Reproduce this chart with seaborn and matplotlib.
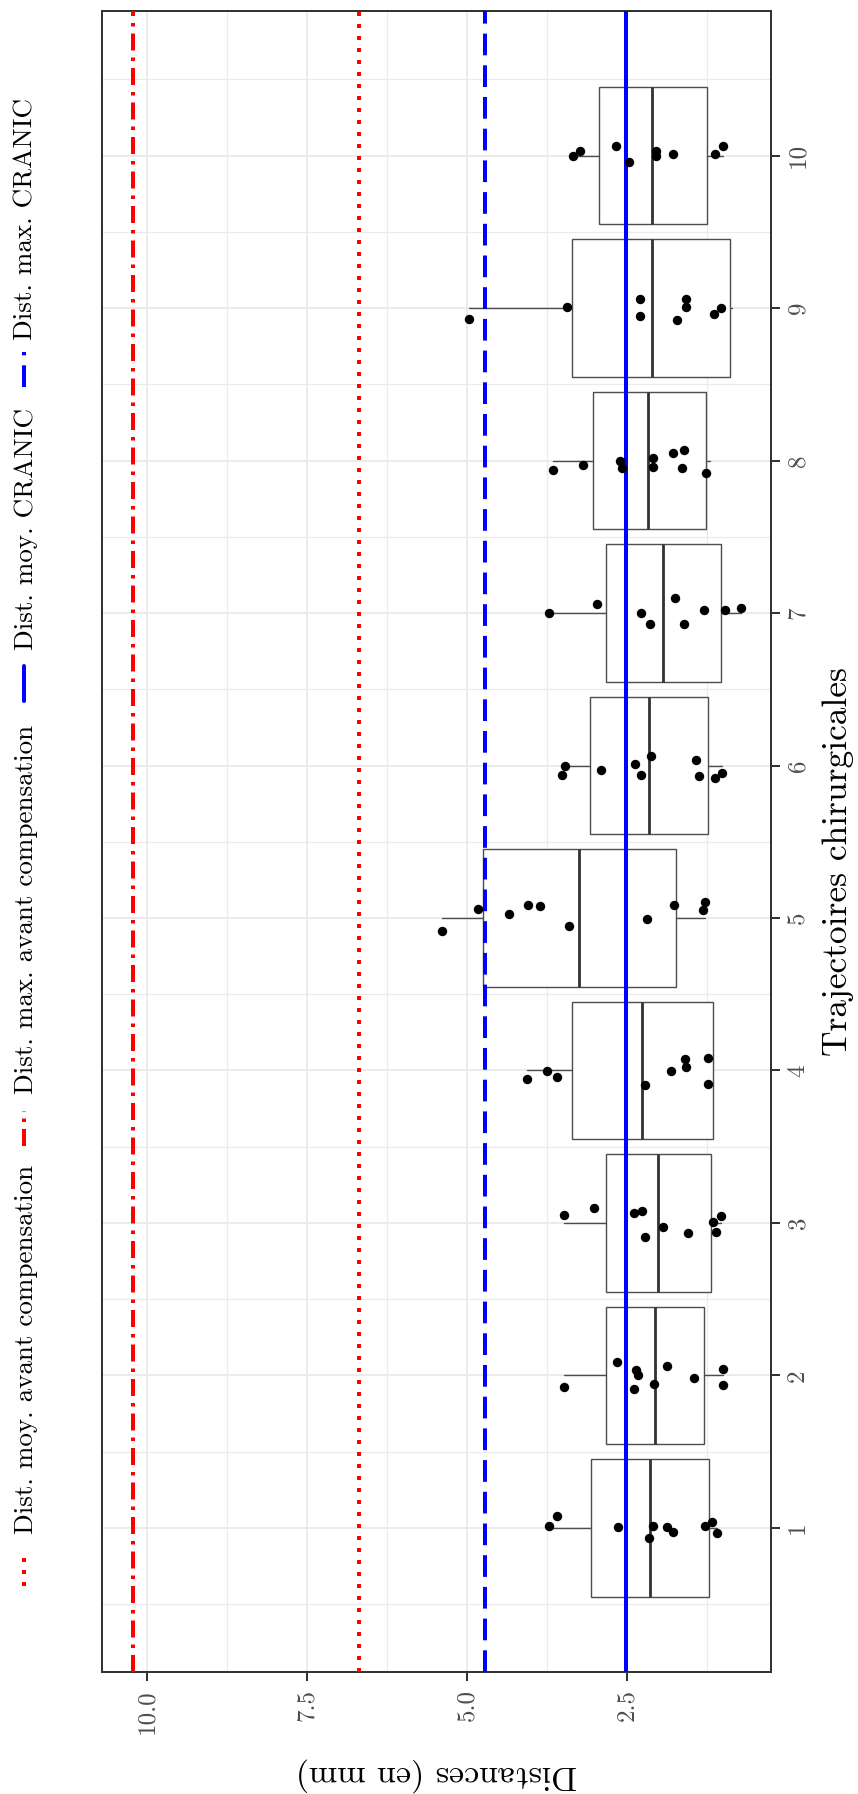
import matplotlib
matplotlib.use("Agg")
import matplotlib.pyplot as plt
from matplotlib.lines import Line2D
import seaborn as sns
import numpy as np
import pandas as pd

# ---------------- data ----------------
trajectories = [1, 2, 3, 4, 5, 6, 7, 8, 9, 10]
tick_labels_traj = ["1", "2", "3", "4", "5", "6", "7", "8", "9", "10"]
dist_ticks = [10.0, 7.5, 5.0, 2.5]
dist_tick_labels = ["10.0", "7.5", "5.0", "2.5"]

box_q1 = [1.208, 1.287, 1.188, 1.156, 1.729, 1.224, 1.03, 1.26, 0.89, 1.25]
box_med = [2.135, 2.058, 2.005, 2.255, 3.240, 2.146, 1.93, 2.16, 2.10, 2.10]
box_q3 = [3.063, 2.823, 2.828, 3.359, 4.740, 3.073, 2.82, 3.03, 3.35, 2.93]
box_lo = [1.094, 0.995, 1.026, 1.156, 1.271, 1.005, 0.71, 1.20, 0.85, 1.00]
box_hi = [3.709, 3.474, 3.474, 4.063, 5.391, 3.505, 3.71, 3.66, 4.96, 3.34]

pt_traj = ([1] * 10 + [2] * 10 + [3] * 10 + [4] * 9 + [5] * 10 + [6] * 10
           + [7] * 9 + [8] * 10 + [9] * 9 + [10] * 9)
pt_value = [
    3.709, 3.583, 2.641, 2.094, 2.151, 1.870, 1.771, 1.276, 1.161, 1.094,
    3.474, 2.657, 2.360, 2.318, 2.380, 2.078, 1.870, 1.443, 0.995, 0.995,
    3.474, 3.005, 2.391, 2.256, 2.214, 1.927, 1.547, 1.157, 1.026, 1.099,
    4.063, 3.740, 3.583, 2.214, 1.807, 1.589, 1.573, 1.224, 1.224,
    5.391, 4.818, 4.333, 4.037, 3.860, 3.396, 2.188, 1.766, 1.271, 1.307,
    3.464, 3.505, 2.896, 2.370, 2.276, 2.115, 1.422, 1.370, 1.115, 1.005,
    3.71, 2.96, 2.28, 2.14, 1.75, 1.60, 1.30, 0.96, 0.71,
    3.66, 3.18, 2.60, 2.58, 2.09, 2.09, 1.78, 1.60, 1.64, 1.26,
    4.96, 3.43, 2.30, 2.30, 1.71, 1.57, 1.57, 1.13, 1.03,
    3.34, 3.23, 2.67, 2.46, 2.05, 2.05, 1.78, 1.12, 1.00,
]
pt_jitter = [
    0.015, 0.081, 0.004, 0.015, -0.068, 0.007, -0.026, 0.015, 0.042, -0.033,
    -0.074, 0.085, 0.035, 0.000, -0.087, -0.055, 0.063, -0.020, 0.039, -0.063,
    0.055, 0.098, 0.066, 0.081, -0.094, -0.026, -0.066, 0.004, 0.046, -0.061,
    -0.057, -0.002, -0.046, -0.094, -0.004, 0.074, 0.022, 0.083, -0.090,
    -0.087, 0.061, 0.028, 0.087, 0.077, -0.050, -0.007, 0.085, 0.103, 0.050,
    -0.004, -0.059, -0.031, 0.007, -0.061, 0.063, 0.037, -0.068, -0.079, -0.050,
    0.00, 0.06, 0.00, -0.07, 0.10, -0.07, 0.02, 0.02, 0.03,
    -0.06, -0.03, 0.00, -0.05, 0.02, -0.04, 0.05, 0.07, -0.05, -0.08,
    -0.07, 0.01, 0.06, -0.05, -0.08, 0.06, 0.01, -0.04, 0.00,
    0.00, 0.03, 0.06, -0.04, 0.03, 0.00, 0.01, 0.01, 0.06,
]

ref_labels = ["Dist. moy. avant compensation", "Dist. max. avant compensation",
              "Dist. moy. CRANIC", "Dist. max. CRANIC"]
ref_values = [6.68, 10.225, 2.51, 4.71]
ref_colors = ["#FF0000", "#FF0000", "#0000FF", "#0000FF"]

# ---------------- style ----------------
sns.set_theme(style="white")
plt.rcParams['font.family'] = ['cmr10', 'DejaVu Serif']
plt.rcParams['axes.formatter.use_mathtext'] = True
plt.rcParams['lines.scale_dashes'] = False

PX = 72.0 / 100.0  # points per pixel at dpi 100
ref_dashes = [(0, (4 * PX, 8 * PX)),
              (0, (17 * PX, 7 * PX, 3.5 * PX, 7 * PX)),
              "solid",
              (0, (21.7 * PX, 10 * PX))]
LW = 4 * PX

W, H = 858, 1794
fig = plt.figure(figsize=(W / 100, H / 100), dpi=100)
L, R, T, B = 101.5, 771, 11.5, 1672
ax = fig.add_axes([L / W, 1 - B / H, (R - L) / W, (B - T) / H])
ax.set_xlim(10.71, 0.245)
ax.set_ylim(0.055, 10.945)

# grid
ax.set_xticks(dist_ticks)
ax.set_xticks([8.75, 6.25, 3.75, 1.25], minor=True)
ax.set_yticks(trajectories)
ax.set_yticks(np.arange(0.5, 11, 1.0), minor=True)
ax.grid(which="major", color="#EBEBEB", lw=1.5 * PX * 1.3, zorder=0)
ax.grid(which="minor", color="#EBEBEB", lw=1.0 * PX * 1.3, zorder=0)
ax.set_axisbelow(True)

# boxes
stats = [dict(med=m, q1=a, q3=b, whislo=lo, whishi=hi, fliers=[])
         for m, a, b, lo, hi in zip(box_med, box_q1, box_q3, box_lo, box_hi)]
bkw = dict(positions=trajectories, widths=0.9, patch_artist=True,
           showfliers=False, showcaps=False, manage_ticks=False,
           boxprops=dict(facecolor="white", edgecolor="#4D4D4D", lw=1.4 * PX),
           medianprops=dict(color="#333333", lw=2.8 * PX),
           whiskerprops=dict(color="#4D4D4D", lw=1.4 * PX), zorder=2)
try:
    ax.bxp(stats, orientation="horizontal", **bkw)
except TypeError:
    ax.bxp(stats, vert=False, **bkw)

# reference lines
for v, c, d in zip(ref_values, ref_colors, ref_dashes):
    ax.axvline(v, color=c, lw=LW, linestyle=d, dash_capstyle="butt", zorder=3)

# points
df = pd.DataFrame({"traj": pt_traj, "value": pt_value, "jit": pt_jitter})
df["ypos"] = df["traj"] + df["jit"]
sns.scatterplot(data=df, x="value", y="ypos", color="black", s=46,
                linewidth=0, zorder=4, ax=ax, legend=False)
ax.set_xlabel("")
ax.set_ylabel("")

# axes styling
for s in ax.spines.values():
    s.set_color("#333333")
    s.set_linewidth(2 * PX)
ax.yaxis.tick_right()
ax.tick_params(axis="both", which="major", length=9 * PX, width=2 * PX,
               color="#333333", labelcolor="#4D4D4D", labelsize=18)
ax.tick_params(axis="both", which="minor", length=0)
ax.tick_params(axis="x", pad=8 * PX, bottom=True)
ax.tick_params(axis="y", pad=7 * PX, right=True, left=False)
ax.set_xticklabels(dist_tick_labels, rotation=90, va="top", ha="center")
ax.set_yticklabels(tick_labels_traj, rotation=90, va="center", ha="left")

# axis titles
fig.text(436 / W, 1 - 1775 / H, "Distances (en mm)", rotation=180,
         ha="center", va="center", fontsize=24.5, color="black")
fig.text(838 / W, 1 - 861 / H, "Trajectoires chirurgicales", rotation=90,
         ha="center", va="center", fontsize=25.5, color="black")

# legend (vertical, reading bottom to top)
key_centers = [1568, 1128, 684, 370]
text_bottoms = [1534, 1094, 650, 340]
KEY = 35
for lab, c, d, kc, tb in zip(ref_labels, ref_colors, ref_dashes,
                             key_centers, text_bottoms):
    y0 = 1 - (kc + KEY / 2) / H
    y1 = 1 - (kc - KEY / 2) / H
    fig.add_artist(Line2D([24 / W, 24 / W], [y0, y1], color=c, lw=LW,
                          linestyle=d, dash_capstyle="butt"))
    fig.text(26 / W, 1 - tb / H, lab, rotation=90, ha="center", va="bottom",
             fontsize=19.5, color="black")

fig.savefig("out.png", dpi=100)
